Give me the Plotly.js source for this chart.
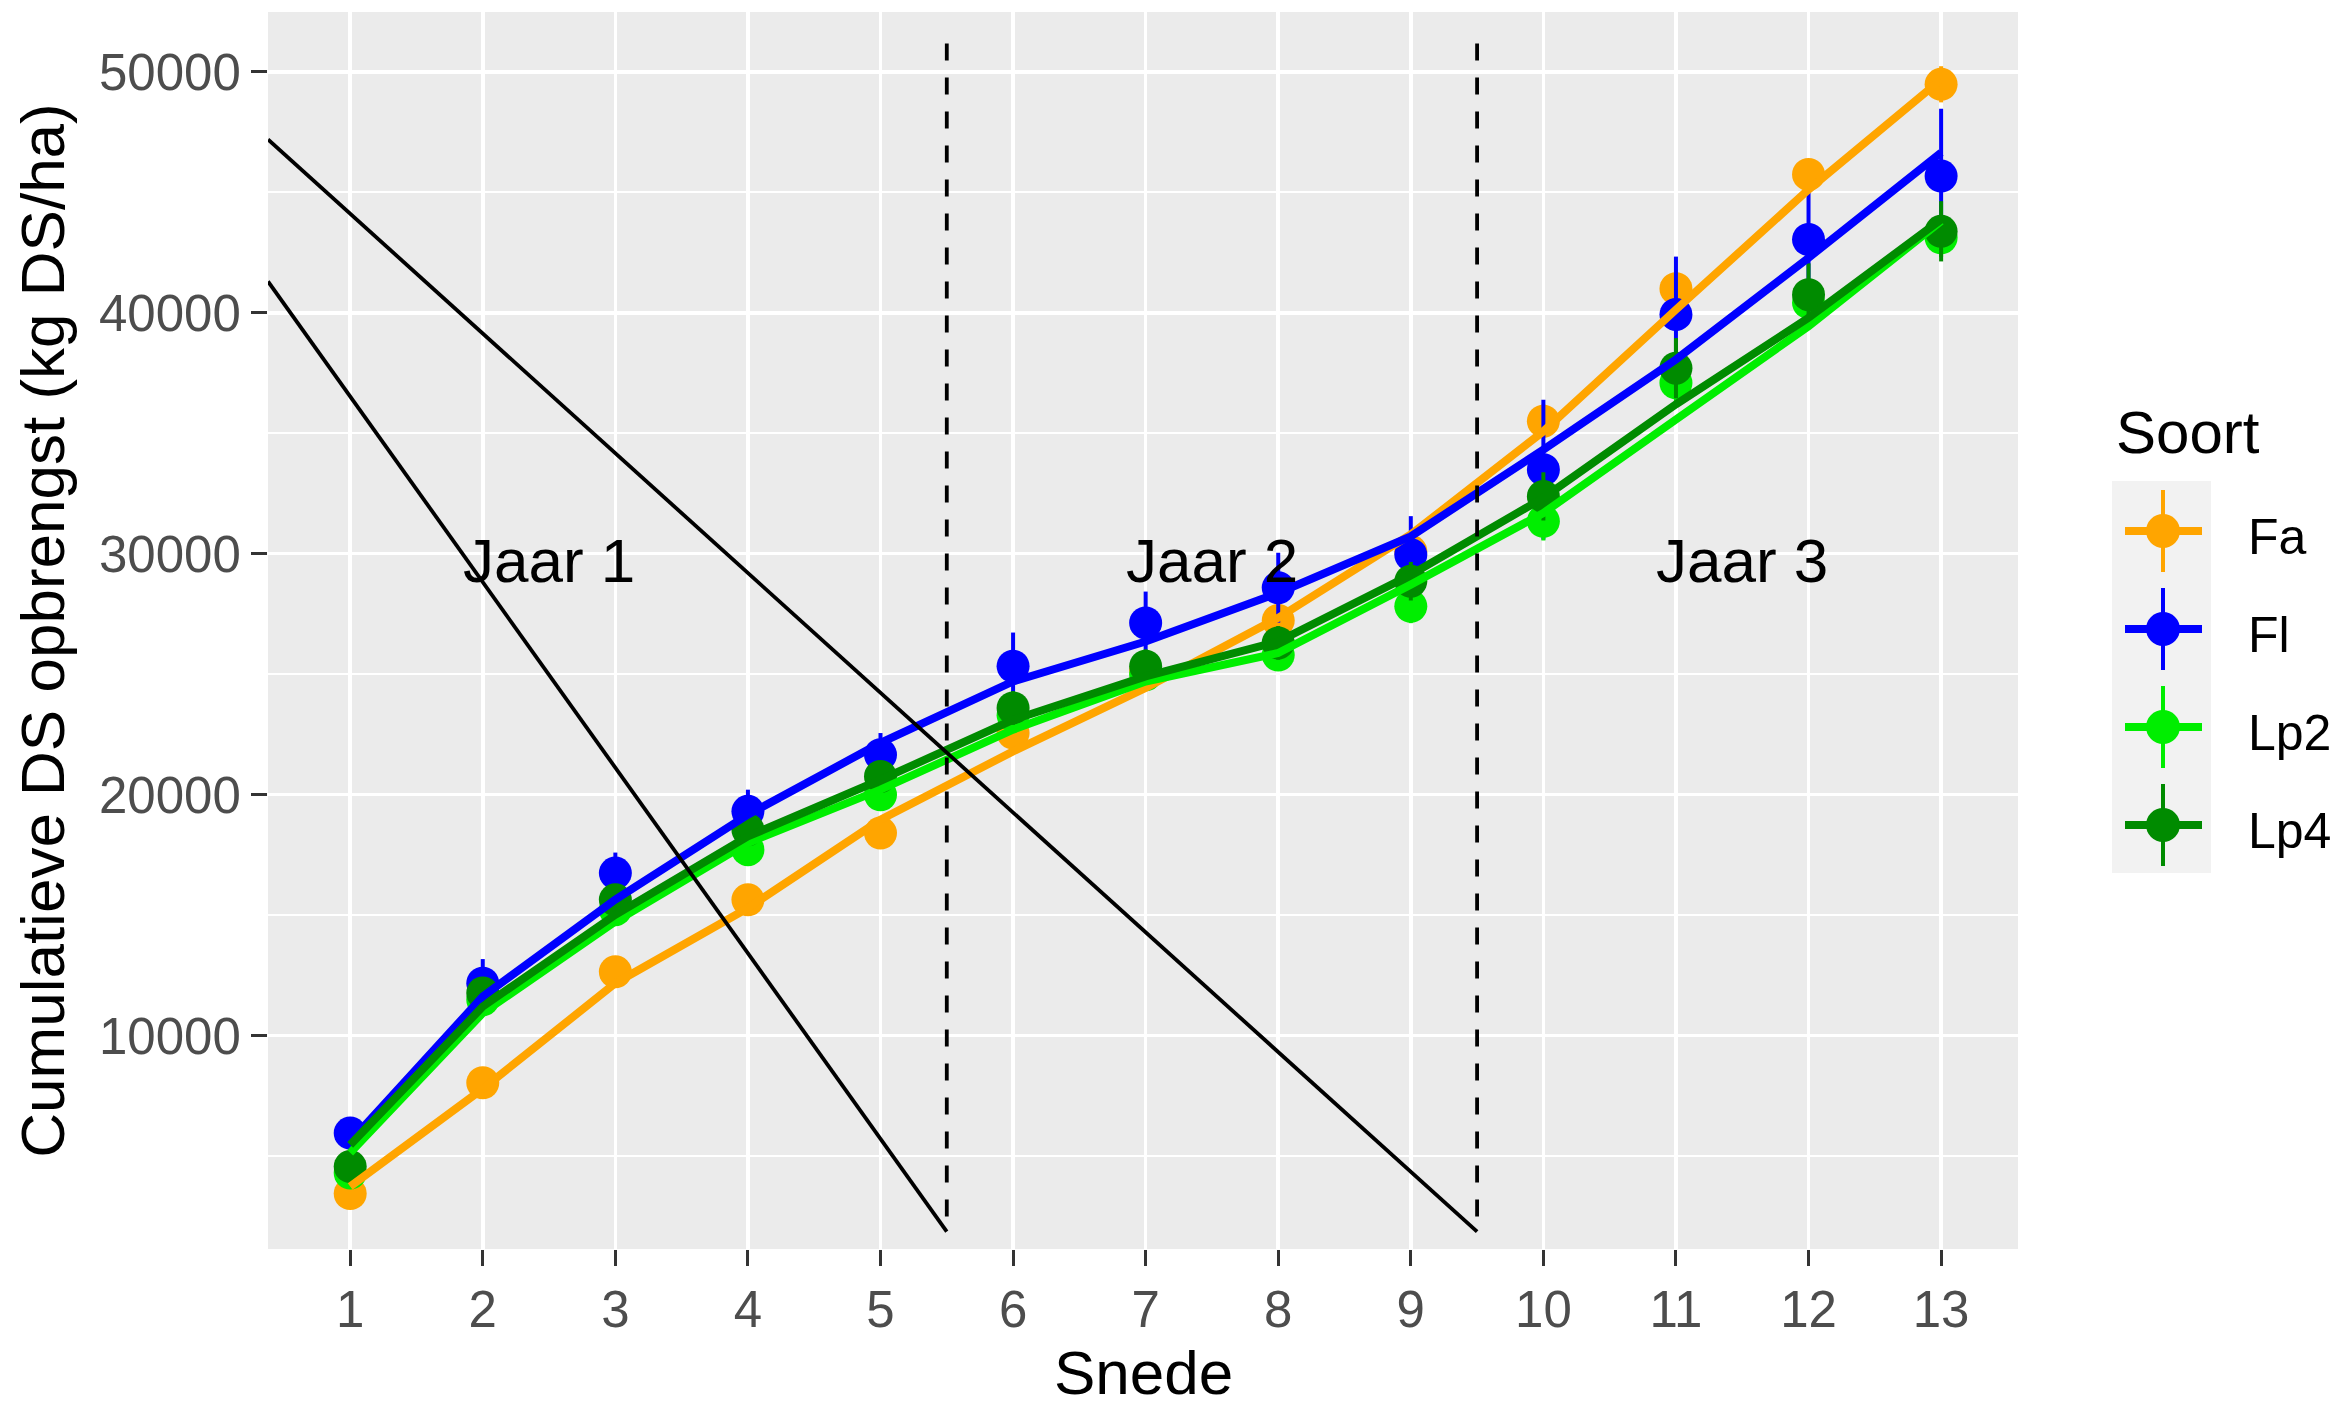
<!DOCTYPE html>
<html><head><meta charset="utf-8">
<script src="https://cdn.plot.ly/plotly-3.0.1.min.js"></script>
<style>html,body{margin:0;padding:0;background:#fff}#chart{width:2344px;height:1409px}</style>
</head><body><div id="chart"></div>
<script>
// ---- data ----
const snede = [1,2,3,4,5,6,7,8,9,10,11,12,13];
const soorten = ["Fa","Fl","Lp2","Lp4"];
const kleuren = ["#FFA500","#0000FF","#00EE00","#008B00"];

// mean cumulative yield per snede (points)
const Fa_mean  = [3450, 8050, 12650, 15640, 18410, 22560, 25150, 27230, 30100, 35500, 41000, 45740, 49480];
const Fl_mean  = [5960, 12180, 16750, 19310, 21660, 25330, 27130, 28590, 29960, 33490, 39930, 43040, 45670];
const Lp2_mean = [4300, 11490, 15230, 17720, 20000, 23300, 24980, 25800, 27820, 31350, 37090, 40420, 43110];
const Lp4_mean = [4570, 11770, 15640, 18550, 20760, 23600, 25330, 26300, 28860, 32380, 37700, 40750, 43380];

// error bar half-widths
const Fa_err  = [500, 500, 450, 400, 450, 500, 500, 600, 600, 700, 700, 500, 750];
const Fl_err  = [450, 1000, 850, 900, 900, 1400, 1300, 1450, 1600, 2900, 2400, 2100, 2800];
const Lp2_err = [400, 500, 450, 450, 500, 600, 500, 600, 700, 800, 900, 700, 800];
const Lp4_err = [500, 600, 600, 600, 600, 700, 700, 700, 800, 1000, 1250, 1300, 1250];

// fitted lines
const Fa_fit  = [3740, 7800, 12180, 15300, 18960, 21800, 24430, 27340, 30800, 35080, 40130, 45110, 49680];
const Fl_fit  = [5610, 11630, 15650, 19170, 22150, 24700, 26360, 28370, 30720, 34320, 38060, 42280, 46640];
const Lp2_fit = [5140, 10940, 14740, 18000, 20210, 22700, 24700, 25880, 28720, 31690, 35570, 39440, 43800];
const Lp4_fit = [5470, 11210, 15020, 18270, 20620, 23110, 24910, 26360, 29130, 32320, 36200, 39790, 43870];

// year separators and diagonal lines
const grens_x = [5.5, 9.5];
const grens_y = [2500, 51420];
const diagA_x = [0.38, 5.5], diagA_y = [41300, 1870];
const diagB_x = [0.38, 9.5], diagB_y = [47190, 1870];

const jaar_labels = ["Jaar 1","Jaar 2","Jaar 3"];
const jaar_x = [2.5, 7.5, 11.5];
const jaar_y = [29700, 29700, 29700];

const yTicks = [10000, 20000, 30000, 40000, 50000];

// ---- build ----
const means = [Fa_mean, Fl_mean, Lp2_mean, Lp4_mean];
const errs = [Fa_err, Fl_err, Lp2_err, Lp4_err];
const fits = [Fa_fit, Fl_fit, Lp2_fit, Lp4_fit];

const FONT = "Liberation Sans, Arial, Helvetica, sans-serif";
const traces = [];
soorten.forEach((s,i)=>{
  traces.push({x: snede, y: means[i], type:'scatter', mode:'markers', name:s, showlegend:false,
    marker:{color:kleuren[i], size:33},
    error_y:{type:'data', array:errs[i], visible:true, width:0, thickness:4, color:kleuren[i]},
    hoverinfo:'skip'});
});
soorten.forEach((s,i)=>{
  traces.push({x: snede, y: fits[i], type:'scatter', mode:'lines', name:s, showlegend:false,
    line:{color:kleuren[i], width:8}, hoverinfo:'skip'});
});
traces.push({x: diagA_x, y: diagA_y, type:'scatter', mode:'lines', showlegend:false, line:{color:'#000', width:3.8}, hoverinfo:'skip'});
traces.push({x: diagB_x, y: diagB_y, type:'scatter', mode:'lines', showlegend:false, line:{color:'#000', width:3.8}, hoverinfo:'skip'});
grens_x.forEach(gx=>{
  traces.push({x:[gx,gx], y:grens_y, type:'scatter', mode:'lines', showlegend:false,
    line:{color:'#000', width:3.8, dash:'17px,17px'}, hoverinfo:'skip'});
});

const W=2344, H=1409, M={l:268, r:326, t:12, b:160};
const pw = W-M.l-M.r, ph = H-M.t-M.b;
const PX = x => (x-M.l)/pw;
const PY = y => (H-M.b-y)/ph;

const shapes = [];
const annotations = [];
jaar_labels.forEach((t,i)=>{
  annotations.push({x:jaar_x[i], y:jaar_y[i], xref:'x', yref:'y', text:t, showarrow:false,
    font:{family:FONT, size:62, color:'#000'}, xanchor:'center', yanchor:'middle'});
});

// x axis title placed as in the reference
annotations.push({x:0.5, y:PY(1407), xref:'paper', yref:'paper', text:'Snede', showarrow:false,
  font:{family:FONT, size:62, color:'#000'}, xanchor:'center', yanchor:'bottom', height:68, valign:'middle', borderpad:0});

// legend (manual, ggplot style)
const keyCx = 2163, keyTop = 481, keyH = 98;
shapes.push({type:'rect', xref:'paper', yref:'paper', x0:PX(2112), x1:PX(2211), y0:PY(keyTop+4*keyH), y1:PY(keyTop),
  fillcolor:'#F2F2F2', line:{width:0}, layer:'above'});
annotations.push({x:PX(2114), y:PY(433), xref:'paper', yref:'paper', text:'Soort', showarrow:false,
  font:{family:FONT, size:60, color:'#000'}, xanchor:'left', yanchor:'middle'});
soorten.forEach((s,i)=>{
  const cy = keyTop + keyH*i + 50;
  const c = kleuren[i];
  shapes.push({type:'line', xref:'paper', yref:'paper', x0:PX(keyCx-38), x1:PX(keyCx+39), y0:PY(cy), y1:PY(cy), line:{color:c, width:8}, layer:'above'});
  shapes.push({type:'line', xref:'paper', yref:'paper', x0:PX(keyCx), x1:PX(keyCx), y0:PY(cy-41), y1:PY(cy+41), line:{color:c, width:4}, layer:'above'});
  shapes.push({type:'circle', xref:'paper', yref:'paper', x0:PX(keyCx-17), x1:PX(keyCx+17), y0:PY(cy+17), y1:PY(cy-17), fillcolor:c, line:{width:0}, layer:'above'});
  annotations.push({x:PX(2246), y:PY(cy+6), xref:'paper', yref:'paper', text:s, showarrow:false,
    font:{family:FONT, size:50, color:'#000'}, xanchor:'left', yanchor:'middle'});
});

const layout = {
  width:W, height:H, margin:M,
  paper_bgcolor:'#FFFFFF', plot_bgcolor:'#EBEBEB',
  showlegend:false,
  font:{family:FONT, color:'#000'},
  xaxis:{range:[0.38,13.58], tickmode:'array', tickvals:snede, ticktext:snede.map(String),
    showgrid:true, gridcolor:'#FFFFFF', gridwidth:3.5, zeroline:false, showline:false,
    ticks:'outside', ticklen:16, tickwidth:3, tickcolor:'#333333',
    tickfont:{family:FONT, size:51, color:'#4D4D4D'}},
  yaxis:{range:[1150,52480], tickmode:'array', tickvals:yTicks, ticktext:yTicks.map(String),
    showgrid:true, gridcolor:'#FFFFFF', gridwidth:3.5, zeroline:false, showline:false,
    minor:{tickmode:'array', tickvals:[5000,15000,25000,35000,45000], showgrid:true, gridcolor:'#FFFFFF', gridwidth:1.8, ticks:''},
    ticks:'outside', ticklen:16, tickwidth:3, tickcolor:'#333333',
    tickfont:{family:FONT, size:51, color:'#4D4D4D'},
    title:{text:'Cumulatieve DS opbrengst (kg DS/ha)', font:{family:FONT, size:62, color:'#000'}, standoff:14}},
  shapes:shapes, annotations:annotations
};
Plotly.newPlot('chart', traces, layout, {staticPlot:true, displayModeBar:false});
</script></body></html>
